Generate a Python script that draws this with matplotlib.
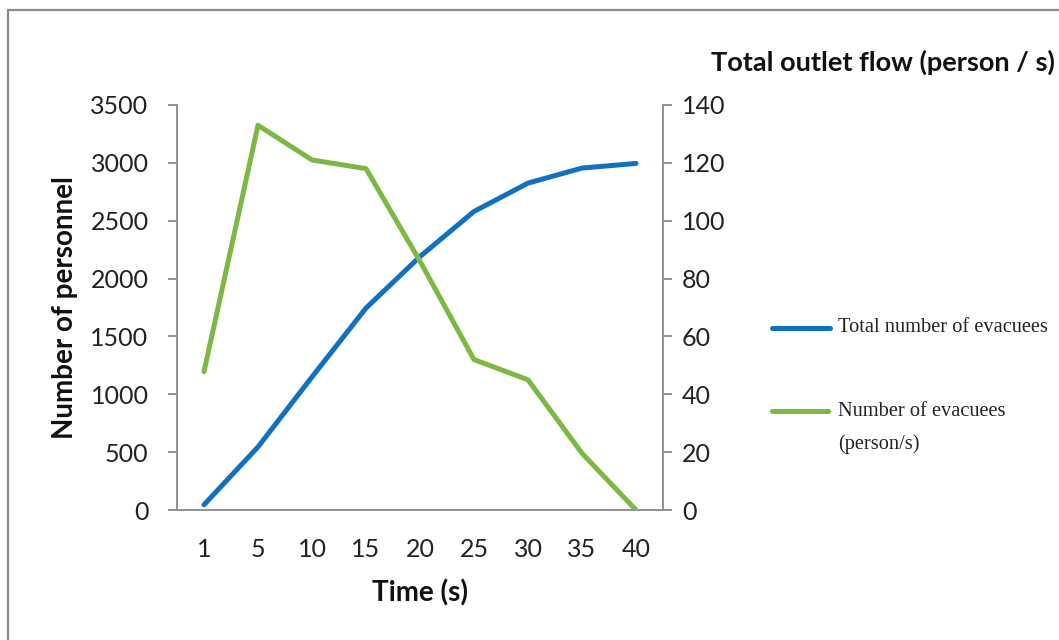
import matplotlib.pyplot as plt
from matplotlib.lines import Line2D
from matplotlib.patches import Rectangle

# evacuation simulation results
time_labels = ["1", "5", "10", "15", "20", "25", "30", "35", "40"]
total_evacuees = [45, 545, 1150, 1745, 2190, 2580, 2825, 2955, 2995]
evacuees_per_s = [47.8, 133, 121, 118, 86, 52, 45, 19.6, 0]

blue = "#1170BF"
green = "#7CB944"
grey = "#8A8A8A"

plt.rcParams["font.family"] = ["Lato", "DejaVu Sans"]

fig = plt.figure(figsize=(10.59, 6.4), dpi=100)
ax = fig.add_axes([177 / 1059, 1 - 510 / 640, 486 / 1059, 405 / 640])
ax2 = ax.twinx()

x = range(len(time_labels))
ax.plot(x, total_evacuees, color=blue, lw=3.6, solid_capstyle="round", zorder=3)
ax2.plot(x, evacuees_per_s, color=green, lw=3.6, solid_capstyle="round", zorder=3)

ax.set_xlim(-0.5, len(time_labels) - 0.5)
ax.set_ylim(0, 3500)
ax2.set_ylim(0, 140)
ax.set_yticks(range(0, 3501, 500))
ax2.set_yticks(range(0, 141, 20))
ax.set_xticks(list(x))
ax.set_xticklabels(time_labels)

for a in (ax, ax2):
    a.spines["top"].set_visible(False)
    for s in ("left", "right", "bottom"):
        a.spines[s].set_color(grey)
        a.spines[s].set_linewidth(1.3)
    a.patch.set_visible(False)

ax.spines["right"].set_visible(False)
ax2.spines["left"].set_visible(False)
ax2.spines["bottom"].set_visible(False)

ax.tick_params(axis="y", direction="out", length=6.5, width=1.3, color=grey,
               pad=14, labelsize=18, labelcolor="#222222")
ax2.tick_params(axis="y", direction="out", length=6.5, width=1.3, color=grey,
                pad=7, labelsize=18, labelcolor="#222222")
ax.tick_params(axis="x", length=0, pad=20, labelsize=18, labelcolor="#222222")

ax.set_ylabel("Number of personnel", fontsize=20, fontweight="bold", color="#111111")
ax.yaxis.set_label_coords(-0.204, 0.5)
ax.set_xlabel("Time (s)", fontsize=20, fontweight="bold", color="#111111")
ax.xaxis.set_label_coords(0.5, -0.17)

fig.text(1055 / 1059, 1 - 62 / 640, "Total outlet flow (person / s)", ha="right",
         va="center", fontsize=19.5, fontweight="bold", color="#111111")

# legend drawn by hand, entries spaced as in the layout
leg_font = dict(family=["Liberation Serif", "DejaVu Serif"], fontsize=14.7, color="#222222")
fig.add_artist(Line2D([772 / 1059, 830 / 1059], [1 - 328 / 640] * 2, color=blue, lw=3.6,
                      solid_capstyle="round"))
fig.text(838 / 1059, 1 - 328 / 640, "Total number of evacuees", va="center", **leg_font)
fig.add_artist(Line2D([772 / 1059, 828 / 1059], [1 - 411 / 640] * 2, color=green, lw=3.6,
                      solid_capstyle="round"))
fig.text(838 / 1059, 1 - 411 / 640, "Number of evacuees", va="center", **leg_font)
fig.text(838 / 1059, 1 - 444 / 640, "(person/s)", va="center", **leg_font)

# outer chart border
fig.add_artist(Rectangle((8 / 1059, -0.05), 1.1, 1.05 - 10 / 640,
                         transform=fig.transFigure, fill=False, edgecolor="#8C8C8C", lw=1.6))

fig.savefig("out.png", dpi=100)
